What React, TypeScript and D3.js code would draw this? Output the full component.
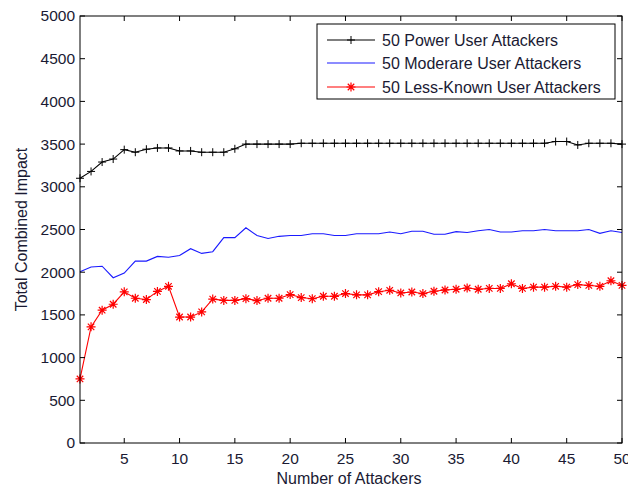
import React from "react";
import * as d3 from "d3";

const attackers = d3.range(1, 51);

const powerUsers = [
  3100, 3180, 3290, 3325, 3435, 3405, 3440, 3455, 3455, 3420,
  3420, 3405, 3405, 3405, 3445, 3500, 3500, 3500, 3500, 3500,
  3510, 3510, 3510, 3510, 3510, 3510, 3510, 3510, 3510, 3510,
  3510, 3510, 3510, 3510, 3510, 3510, 3510, 3510, 3510, 3510,
  3510, 3510, 3510, 3530, 3530, 3490, 3510, 3510, 3510, 3500,
];

const moderateUsers = [
  2005, 2060, 2070, 1935, 1990, 2130, 2130, 2185, 2175, 2195,
  2275, 2220, 2240, 2405, 2405, 2520, 2430, 2395, 2420, 2430,
  2430, 2450, 2450, 2430, 2430, 2450, 2450, 2450, 2470, 2450,
  2480, 2480, 2445, 2445, 2475, 2465, 2485, 2500, 2470, 2470,
  2485, 2485, 2500, 2485, 2485, 2485, 2500, 2455, 2485, 2465,
];

const lessKnownUsers = [
  750, 1360, 1555, 1625, 1770, 1695, 1680, 1775, 1835, 1475,
  1475, 1535, 1685, 1670, 1670, 1690, 1668, 1695, 1695, 1738,
  1703, 1690, 1718, 1718, 1750, 1735, 1735, 1772, 1788, 1757,
  1768, 1750, 1777, 1792, 1800, 1815, 1800, 1810, 1810, 1865,
  1810, 1825, 1825, 1835, 1825, 1855, 1845, 1835, 1900, 1845,
];

const seriesNames = [
  "50 Power User Attackers",
  "50 Moderare User Attackers",
  "50 Less-Known User Attackers",
];

const xTicks = [5, 10, 15, 20, 25, 30, 35, 40, 45, 50];
const yTicks = d3.range(0, 5001, 500);

const W = 628;
const H = 486;
const left = 80;
const right = 622;
const top = 16;
const bottom = 443;
const font = "'Liberation Sans', Arial, sans-serif";
const tickLen = 5;
const textColor = "#1a1a33";

const x = d3.scaleLinear().domain([1, 50]).range([left, right]);
const y = d3.scaleLinear().domain([0, 5000]).range([bottom, top]);

const line = d3
  .line<number>()
  .x((_, i) => x(attackers[i]))
  .y((d) => y(d));

function Plus({ cx, cy, r, color }: { cx: number; cy: number; r: number; color: string }) {
  return (
    <path
      d={`M${cx - r},${cy}H${cx + r}M${cx},${cy - r}V${cy + r}`}
      stroke={color}
      strokeWidth={1}
      fill="none"
    />
  );
}

function Star({ cx, cy, r, color }: { cx: number; cy: number; r: number; color: string }) {
  const d = r * 0.72;
  return (
    <path
      d={`M${cx - r},${cy}H${cx + r}M${cx},${cy - r}V${cy + r}M${cx - d},${cy - d}L${cx + d},${cy + d}M${cx - d},${cy + d}L${cx + d},${cy - d}`}
      stroke={color}
      strokeWidth={1.2}
      fill="none"
    />
  );
}

export default function App() {
  const series = [
    { name: seriesNames[0], values: powerUsers, color: "#000000", marker: "plus" },
    { name: seriesNames[1], values: moderateUsers, color: "#1a1aff", marker: "none" },
    { name: seriesNames[2], values: lessKnownUsers, color: "#ff0000", marker: "star" },
  ];

  const legendX = 317;
  const legendY = 24;
  const legendW = 298;
  const legendH = 75;
  const rowY = [40, 63, 87];

  return (
    <svg
      width={W}
      height={H}
      style={{ position: "absolute", left: 0, top: 0, background: "#fff" }}
      fontFamily={font}
    >
      <rect x={0} y={0} width={W} height={H} fill="#fff" />

      {/* data lines */}
      {series.map((s) => (
        <g key={s.name}>
          <path d={line(s.values) ?? ""} fill="none" stroke={s.color} strokeWidth={1.1} />
          {s.values.map((v, i) =>
            s.marker === "plus" ? (
              <Plus key={i} cx={x(attackers[i])} cy={y(v)} r={4} color={s.color} />
            ) : s.marker === "star" ? (
              <Star key={i} cx={x(attackers[i])} cy={y(v)} r={4.5} color={s.color} />
            ) : null
          )}
        </g>
      ))}

      {/* axes box */}
      <rect
        x={left}
        y={top}
        width={right - left}
        height={bottom - top}
        fill="none"
        stroke="#000"
        strokeWidth={1}
      />

      {/* y ticks */}
      {yTicks.map((t) => (
        <g key={`y${t}`}>
          <line x1={left} x2={left + tickLen} y1={y(t)} y2={y(t)} stroke="#000" />
          <line x1={right} x2={right - tickLen} y1={y(t)} y2={y(t)} stroke="#000" />
          <text
            x={left - 5}
            y={y(t)}
            dy="0.35em"
            textAnchor="end"
            fontSize={15.5}
            fill={textColor}
          >
            {t}
          </text>
        </g>
      ))}

      {/* x ticks */}
      {xTicks.map((t) => (
        <g key={`x${t}`}>
          <line x1={x(t)} x2={x(t)} y1={bottom} y2={bottom - tickLen} stroke="#000" />
          <line x1={x(t)} x2={x(t)} y1={top} y2={top + tickLen} stroke="#000" />
          <text x={x(t)} y={bottom + 21} textAnchor="middle" fontSize={15.5} fill={textColor}>
            {t}
          </text>
        </g>
      ))}

      {/* axis titles */}
      <text x={349} y={484} textAnchor="middle" fontSize={16} fill={textColor}>
        Number of Attackers
      </text>
      <text
        transform={`translate(27,${(top + bottom) / 2}) rotate(-90)`}
        textAnchor="middle"
        fontSize={16}
        fill={textColor}
      >
        Total Combined Impact
      </text>

      {/* legend */}
      <rect x={legendX} y={legendY} width={legendW} height={legendH} fill="#fff" stroke="#000" />
      {series.map((s, i) => (
        <g key={`lg${i}`}>
          <line x1={327} x2={375} y1={rowY[i]} y2={rowY[i]} stroke={s.color} strokeWidth={1.1} />
          {s.marker === "plus" && <Plus cx={351} cy={rowY[i]} r={4} color={s.color} />}
          {s.marker === "star" && <Star cx={351} cy={rowY[i]} r={4.5} color={s.color} />}
          <text x={382} y={rowY[i]} dy="0.35em" fontSize={16} fill={textColor}>
            {s.name}
          </text>
        </g>
      ))}
    </svg>
  );
}
